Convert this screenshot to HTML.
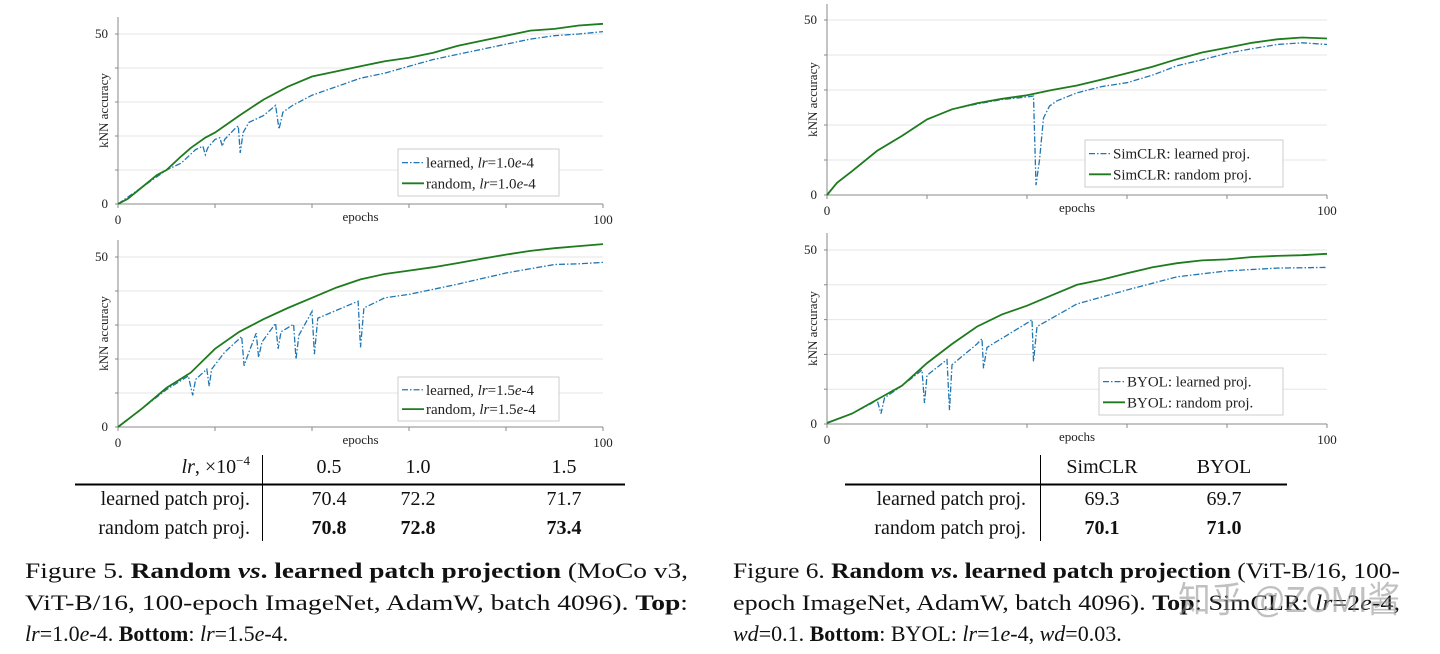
<!DOCTYPE html>
<html><head><meta charset="utf-8"><style>
html,body{margin:0;padding:0;background:#fff;}
svg{display:block;font-family:"Liberation Serif",serif;}
</style></head><body>
<svg id="fig" width="1440" height="654" viewBox="0 0 1440 654" xmlns="http://www.w3.org/2000/svg">
<g id="charts"></g>

<g font-size="20" fill="#111">
  <text x="250" y="473" text-anchor="end"><tspan font-style="italic">lr</tspan>, ×10<tspan font-size="13" dy="-8">−4</tspan></text>
  <text x="329" y="473" text-anchor="middle">0.5</text>
  <text x="418" y="473" text-anchor="middle">1.0</text>
  <text x="564" y="473" text-anchor="middle">1.5</text>
  <line x1="75" y1="484.5" x2="625" y2="484.5" stroke="#000" stroke-width="2"/>
  <line x1="262.5" y1="455" x2="262.5" y2="541" stroke="#000" stroke-width="1"/>
  <text x="250" y="505" text-anchor="end">learned patch proj.</text>
  <text x="329" y="505" text-anchor="middle">70.4</text>
  <text x="418" y="505" text-anchor="middle">72.2</text>
  <text x="564" y="505" text-anchor="middle">71.7</text>
  <text x="250" y="534" text-anchor="end">random patch proj.</text>
  <text x="329" y="534" text-anchor="middle" font-weight="bold">70.8</text>
  <text x="418" y="534" text-anchor="middle" font-weight="bold">72.8</text>
  <text x="564" y="534" text-anchor="middle" font-weight="bold">73.4</text>
</g>

<g font-size="20" fill="#111">
  <text x="1102" y="473" text-anchor="middle">SimCLR</text>
  <text x="1224" y="473" text-anchor="middle">BYOL</text>
  <line x1="845" y1="484.5" x2="1287" y2="484.5" stroke="#000" stroke-width="2"/>
  <line x1="1040.5" y1="455" x2="1040.5" y2="541" stroke="#000" stroke-width="1"/>
  <text x="1026" y="505" text-anchor="end">learned patch proj.</text>
  <text x="1102" y="505" text-anchor="middle">69.3</text>
  <text x="1224" y="505" text-anchor="middle">69.7</text>
  <text x="1026" y="534" text-anchor="end">random patch proj.</text>
  <text x="1102" y="534" text-anchor="middle" font-weight="bold">70.1</text>
  <text x="1224" y="534" text-anchor="middle" font-weight="bold">71.0</text>
</g>

<g font-size="22" fill="#111">
  <text x="25" y="578" textLength="663" lengthAdjust="spacingAndGlyphs">Figure 5.   <tspan font-weight="bold">Random <tspan font-style="italic">vs</tspan>. learned patch projection</tspan> (MoCo v3,</text>
  <text x="25" y="610" textLength="663" lengthAdjust="spacingAndGlyphs">ViT-B/16, 100-epoch ImageNet, AdamW, batch 4096).   <tspan font-weight="bold">Top</tspan>:</text>
  <text x="25" y="641"><tspan font-style="italic">lr</tspan>=1.0<tspan font-style="italic">e</tspan>-4. <tspan font-weight="bold">Bottom</tspan>: <tspan font-style="italic">lr</tspan>=1.5<tspan font-style="italic">e</tspan>-4.</text>
</g>
<g font-size="22" fill="#111">
  <text x="733" y="578" textLength="667" lengthAdjust="spacingAndGlyphs">Figure 6.  <tspan font-weight="bold">Random <tspan font-style="italic">vs</tspan>. learned patch projection</tspan> (ViT-B/16, 100-</text>
  <text x="733" y="610" textLength="667" lengthAdjust="spacingAndGlyphs">epoch ImageNet, AdamW, batch 4096). <tspan font-weight="bold">Top</tspan>: SimCLR: <tspan font-style="italic">lr</tspan>=2<tspan font-style="italic">e</tspan>-4,</text>
  <text x="733" y="641"><tspan font-style="italic">wd</tspan>=0.1. <tspan font-weight="bold">Bottom</tspan>: BYOL: <tspan font-style="italic">lr</tspan>=1<tspan font-style="italic">e</tspan>-4, <tspan font-style="italic">wd</tspan>=0.03.</text>
</g>
<text x="1178" y="612" font-size="36" textLength="222" lengthAdjust="spacingAndGlyphs" fill="rgba(140,140,140,0.55)" font-family="'Liberation Sans','Noto Sans CJK SC',sans-serif">知乎 @ZOMI酱</text>
</svg>
<script>
// ---- data ----
const tlRandomEpochs=[0,2,5,8,10,13,15,18,20,25,30,35,40,45,50,55,60,65,70,75,80,85,90,95,100];
const tlRandomValues=[0,1.5,5,8.5,10,14,16.5,19.5,21,26,30.7,34.5,37.5,39,40.5,42,43,44.5,46.5,48,49.5,51,51.5,52.5,53];
const tlLearnedEpochs=[0,5,10,13,16,17.5,18,18.5,20,21,21.5,22,24,24.8,25.2,25.8,27,30,32.5,33.2,34,36,40,45,50,55,60,65,70,75,80,85,90,95,100];
const tlLearnedValues=[0,5,10,12,16,17,14.5,16.5,19,19.5,17,19,22,23,15,21,24,26,29,22,27,29,32,34.5,37,38.5,40.5,42.5,44,45.5,47,48.5,49.5,50,50.7];

const blRandomEpochs=[0,5,10,15,20,25,30,35,40,45,50,55,60,65,70,75,80,85,90,95,100];
const blRandomValues=[0,5.5,11.5,16,23,28,31.7,35,38,41,43.4,45,46,47,48.2,49.5,50.7,51.8,52.6,53.2,53.8];
const blLearnedEpochs=[0,5,10,14.5,15.4,16,18.3,18.8,19.3,22,25.5,26,27,28.5,29,29.7,32.5,33,33.6,36.2,36.7,37.3,40,40.5,41.2,49.5,50,50.7,55,60,70,80,90,95,100];
const blLearnedValues=[0,5.5,11,15,9.3,14,17,12,17,22,26.6,18,22,27.6,20.5,25,30.5,23,28,30.2,20,27,34,21.4,32,37,23.4,35,38,39,42,45.3,47.8,48,48.4];

const trRandomEpochs=[0,2,5,10,15,20,25,30,35,40,45,50,55,60,65,70,75,80,85,90,95,100];
const trRandomValues=[0,3.5,6.8,12.6,16.9,21.6,24.5,26.2,27.5,28.5,30,31.3,33,34.8,36.6,38.8,40.7,42.1,43.5,44.5,45,44.7];
const trLearnedEpochs=[0,2,5,10,15,20,25,30,35,40,41.3,41.8,42.5,43.3,44.5,46,50,55,60,65,70,75,80,85,90,95,100];
const trLearnedValues=[0,3.5,6.8,12.6,16.9,21.6,24.5,26,27.3,28,28.3,2.8,10,22,25.4,26.9,29.2,31,32.1,34.2,36.9,38.6,40.5,41.8,43,43.5,43];

const brRandomEpochs=[0,5,10,15,20,25,30,35,40,45,50,55,60,65,70,75,80,85,90,95,100];
const brRandomValues=[0.3,3,7,11,17.5,23,28,31.5,34,37,40,41.5,43.3,45,46.2,47,47.3,48,48.3,48.5,48.9];
const brLearnedEpochs=[0,5,9,10,10.8,11.5,15,19,19.5,20,24,24.5,25,30,31,31.3,32,40,41,41.3,42,50,60,70,80,90,100];
const brLearnedValues=[0.3,3,6,7,3,7.5,11,15.5,6,14,18.5,4,17,23,24.5,16,22,29,30,18,28,34.5,38.5,42.3,44,44.8,45];

const yTicks=[0,10,20,30,40,50];
const yTickLabels=["0","","","","","50"];
const xTicks=[0,20,40,60,80,100];
const xTickLabels=["0","","","","","100"];

const panels=[
 {name:"top-left",x0:118,x1:603,y0:204,y50:34,top:17,legend:[398,149,161,47],
  learned:[tlLearnedEpochs,tlLearnedValues],random:[tlRandomEpochs,tlRandomValues],
  labels:['learned, <tspan font-style="italic">lr</tspan>=1.0<tspan font-style="italic">e</tspan>-4','random, <tspan font-style="italic">lr</tspan>=1.0<tspan font-style="italic">e</tspan>-4']},
 {name:"bottom-left",x0:118,x1:603,y0:427,y50:257,top:240,legend:[398,377,161,44],
  learned:[blLearnedEpochs,blLearnedValues],random:[blRandomEpochs,blRandomValues],
  labels:['learned, <tspan font-style="italic">lr</tspan>=1.5<tspan font-style="italic">e</tspan>-4','random, <tspan font-style="italic">lr</tspan>=1.5<tspan font-style="italic">e</tspan>-4']},
 {name:"top-right",x0:827,x1:1327,y0:195,y50:20,top:4,legend:[1085,140,198,47],
  learned:[trLearnedEpochs,trLearnedValues],random:[trRandomEpochs,trRandomValues],
  labels:['SimCLR: learned proj.','SimCLR: random proj.']},
 {name:"bottom-right",x0:827,x1:1327,y0:424,y50:250,top:233,legend:[1099,368,184,47],
  learned:[brLearnedEpochs,brLearnedValues],random:[brRandomEpochs,brRandomValues],
  labels:['BYOL: learned proj.','BYOL: random proj.']}
];

const NS="http://www.w3.org/2000/svg";
const root=document.getElementById('charts');
function mk(tag,attrs,parent){const e=document.createElementNS(NS,tag);for(const k in attrs)e.setAttribute(k,attrs[k]);parent.appendChild(e);return e;}

panels.forEach(p=>{
  const g=mk('g',{},root);
  
  
  const xs=e=>p.x0+(p.x1-p.x0)*e/100;
  const ys=v=>p.y0-(p.y0-p.y50)*v/50;
  yTicks.forEach((t,i)=>{
    if(t>0){const gl=mk('line',{x1:p.x0,x2:p.x1,y1:ys(t),y2:ys(t),stroke:'#e6e6e6','stroke-width':1},g);
      
      }
    const tk=mk('line',{x1:p.x0-3,x2:p.x0,y1:ys(t),y2:ys(t),stroke:'#888','stroke-width':1},g);
    
    
    if(yTickLabels[i]){const tl=mk('text',{x:p.x0-10,y:ys(t)+4,'font-size':13,'text-anchor':'end',fill:'#222'},g);tl.textContent=yTickLabels[i];
      
      }
  });
  xTicks.forEach((t,i)=>{
    const tk=mk('line',{x1:xs(t),x2:xs(t),y1:p.y0,y2:p.y0+4,stroke:'#888','stroke-width':1},g);
    
    
    if(xTickLabels[i]){const tl=mk('text',{x:xs(t),y:p.y0+20,'font-size':13,'text-anchor':'middle',fill:'#222'},g);tl.textContent=xTickLabels[i];
      
      }
  });
  const ax=mk('path',{d:`M${p.x0},${p.top}V${p.y0}H${p.x1}`,fill:'none',stroke:'#888','stroke-width':1},g);
  
  
  const xl=mk('text',{x:(p.x0+p.x1)/2,y:p.y0+17,'font-size':13,'text-anchor':'middle',fill:'#222'},g);xl.textContent='epochs';
  
  
  const cy=(p.y0+p.top)/2;
  const yl=mk('text',{x:p.x0-10,y:cy,'font-size':13,'text-anchor':'middle',fill:'#222',transform:`rotate(-90 ${p.x0-10} ${cy})`},g);yl.textContent='kNN accuracy';
  
  
  const path=(ser)=>ser[0].map((e,i)=>(i?'L':'M')+xs(e).toFixed(1)+','+ys(ser[1][i]).toFixed(1)).join('');
  const lb=mk('path',{d:path(p.learned),fill:'none',stroke:'#1f77b4','stroke-width':1.3,'stroke-dasharray':'6 2 1.5 2'},g);
  
  
  const rg=mk('path',{d:path(p.random),fill:'none',stroke:'#1e7b1e','stroke-width':1.8},g);
  
  
  const [lx,ly,lw,lh]=p.legend;
  const lg=mk('g',{},g);
  
  
  mk('rect',{x:lx,y:ly,width:lw,height:lh,fill:'#fff',stroke:'#ccc','stroke-width':1},lg);
  const r1=ly+lh*0.29, r2=ly+lh*0.73;
  mk('line',{x1:lx+4,x2:lx+26,y1:r1,y2:r1,stroke:'#1f77b4','stroke-width':1.3,'stroke-dasharray':'6 2 1.5 2'},lg);
  mk('line',{x1:lx+4,x2:lx+26,y1:r2,y2:r2,stroke:'#1e7b1e','stroke-width':1.8},lg);
  const t1=mk('text',{x:lx+28,y:r1+5,'font-size':15,fill:'#222'},lg);t1.innerHTML=p.labels[0];
  
  
  const t2=mk('text',{x:lx+28,y:r2+5,'font-size':15,fill:'#222'},lg);t2.innerHTML=p.labels[1];
  
  
});
</script>
</body></html>
